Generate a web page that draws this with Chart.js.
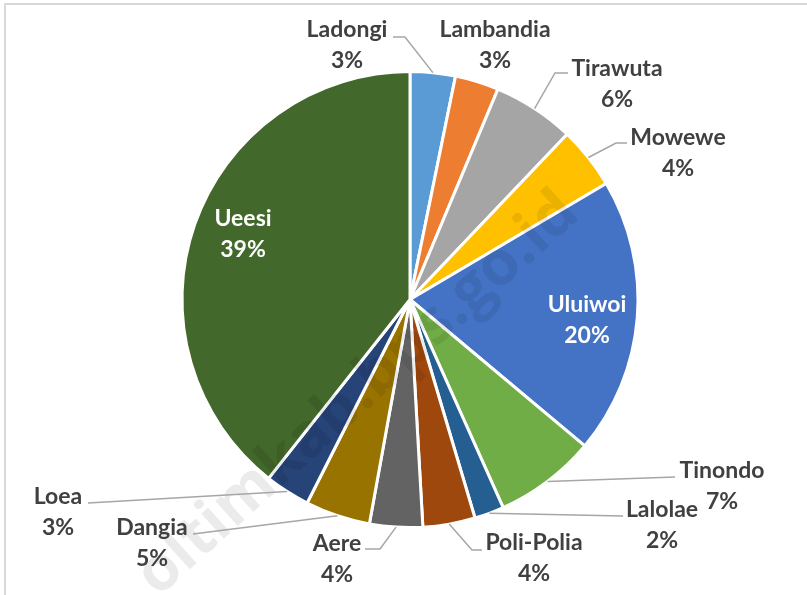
<!DOCTYPE html>
<html>
<head>
<meta charset="utf-8">
<script src="https://cdn.jsdelivr.net/npm/chart.js@4.4.1/dist/chart.umd.min.js"></script>
<style>
  html, body { margin: 0; padding: 0; background: #fff; }
  #wrap { position: relative; width: 807px; height: 595px; }
</style>
</head>
<body>
<div id="wrap"><canvas id="chart" width="807" height="595"></canvas></div>
<script>
// --- Data ---
const districts = ['Ladongi', 'Lambandia', 'Tirawuta', 'Mowewe', 'Uluiwoi', 'Tinondo',
  'Lalolae', 'Poli-Polia', 'Aere', 'Dangia', 'Loea', 'Ueesi'];
const shares = [3.2, 3.1, 5.8, 4.4, 19.6, 7.2, 2.1, 3.7, 3.75, 4.6, 3.2, 39.35];
const sliceColors = ['#5B9BD5', '#ED7D31', '#A5A5A5', '#FFC000', '#4472C4', '#70AD47',
  '#255E91', '#9E480E', '#636363', '#997300', '#264478', '#43682B'];

// label placement: name centre (x, y), leader points from label towards the slice
const labelLayout = [
  { x: 347, y: 30, line: [[393, 37], [405, 37]] },
  { x: 495, y: 30, line: null },
  { x: 617, y: 69, line: [[568, 73], [555, 73]] },
  { x: 678, y: 138, line: [[627, 143], [616, 143]] },
  { x: 587, y: 305, line: null, inside: true },
  { x: 722, y: 471, line: [[675, 477]] },
  { x: 662, y: 510, line: [[623, 516]] },
  { x: 534, y: 543, line: [[482, 550], [472, 550]] },
  { x: 337, y: 544, line: [[365, 549], [380, 549]] },
  { x: 152, y: 528, line: [[193, 534]] },
  { x: 58, y: 497, line: [[88, 503]] },
  { x: 243, y: 219, line: null, inside: true }
];

const WATERMARK = 'oltimkab.bps.go.id';
const LABEL_FONT = 'bold 23px Lato, "Open Sans", sans-serif';

// --- Plugins ---
const framePlugin = {
  id: 'frame',
  beforeDraw(chart) {
    const ctx = chart.ctx;
    ctx.save();
    ctx.strokeStyle = '#d9d9d9';
    ctx.lineWidth = 2;
    ctx.beginPath();
    ctx.moveTo(5, 595);
    ctx.lineTo(5, 4);
    ctx.lineTo(807, 4);
    ctx.stroke();
    ctx.restore();
  }
};

const labelPlugin = {
  id: 'pieLabels',
  afterDatasetsDraw(chart) {
    const ctx = chart.ctx;
    const meta = chart.getDatasetMeta(0);
    const total = shares.reduce((s, v) => s + v, 0);

    // watermark
    ctx.save();
    ctx.translate(158, 598);
    ctx.rotate(-42 * Math.PI / 180);
    ctx.font = 'bold 60px "Open Sans", sans-serif';
    const w = ctx.measureText(WATERMARK).width;
    const size = 60 * 570 / w;
    ctx.font = `bold ${size}px "Open Sans", sans-serif`;
    ctx.fillStyle = 'rgba(0,0,0,0.08)';
    ctx.textBaseline = 'alphabetic';
    ctx.fillText(WATERMARK, 0, 0);
    ctx.restore();

    meta.data.forEach((arc, i) => {
      const p = arc.getProps(['x', 'y', 'startAngle', 'endAngle', 'outerRadius'], true);
      const mid = (p.startAngle + p.endAngle) / 2;
      const lay = labelLayout[i];

      if (lay.line) {
        ctx.save();
        ctx.strokeStyle = '#a6a6a6';
        ctx.lineWidth = 1.5;
        ctx.beginPath();
        ctx.moveTo(lay.line[0][0], lay.line[0][1]);
        lay.line.slice(1).forEach(pt => ctx.lineTo(pt[0], pt[1]));
        ctx.lineTo(p.x + Math.cos(mid) * p.outerRadius, p.y + Math.sin(mid) * p.outerRadius);
        ctx.stroke();
        ctx.restore();
      }

      ctx.save();
      ctx.font = LABEL_FONT;
      ctx.textAlign = 'center';
      ctx.textBaseline = 'middle';
      ctx.fillStyle = lay.inside ? '#ffffff' : '#404040';
      ctx.fillText(districts[i], lay.x, lay.y);
      ctx.fillText(Math.round(shares[i] / total * 100) + '%', lay.x, lay.y + 31);
      ctx.restore();
    });
  }
};

// --- Chart ---
new Chart(document.getElementById('chart'), {
  type: 'pie',
  data: {
    labels: districts,
    datasets: [{
      data: shares,
      backgroundColor: sliceColors,
      borderColor: '#ffffff',
      borderWidth: 3
    }]
  },
  options: {
    responsive: false,
    animation: false,
    layout: { padding: { left: 150, right: 137, top: 70, bottom: 66 } },
    plugins: {
      legend: { display: false },
      tooltip: { enabled: false }
    }
  },
  plugins: [framePlugin, labelPlugin]
});
</script>
</body>
</html>
